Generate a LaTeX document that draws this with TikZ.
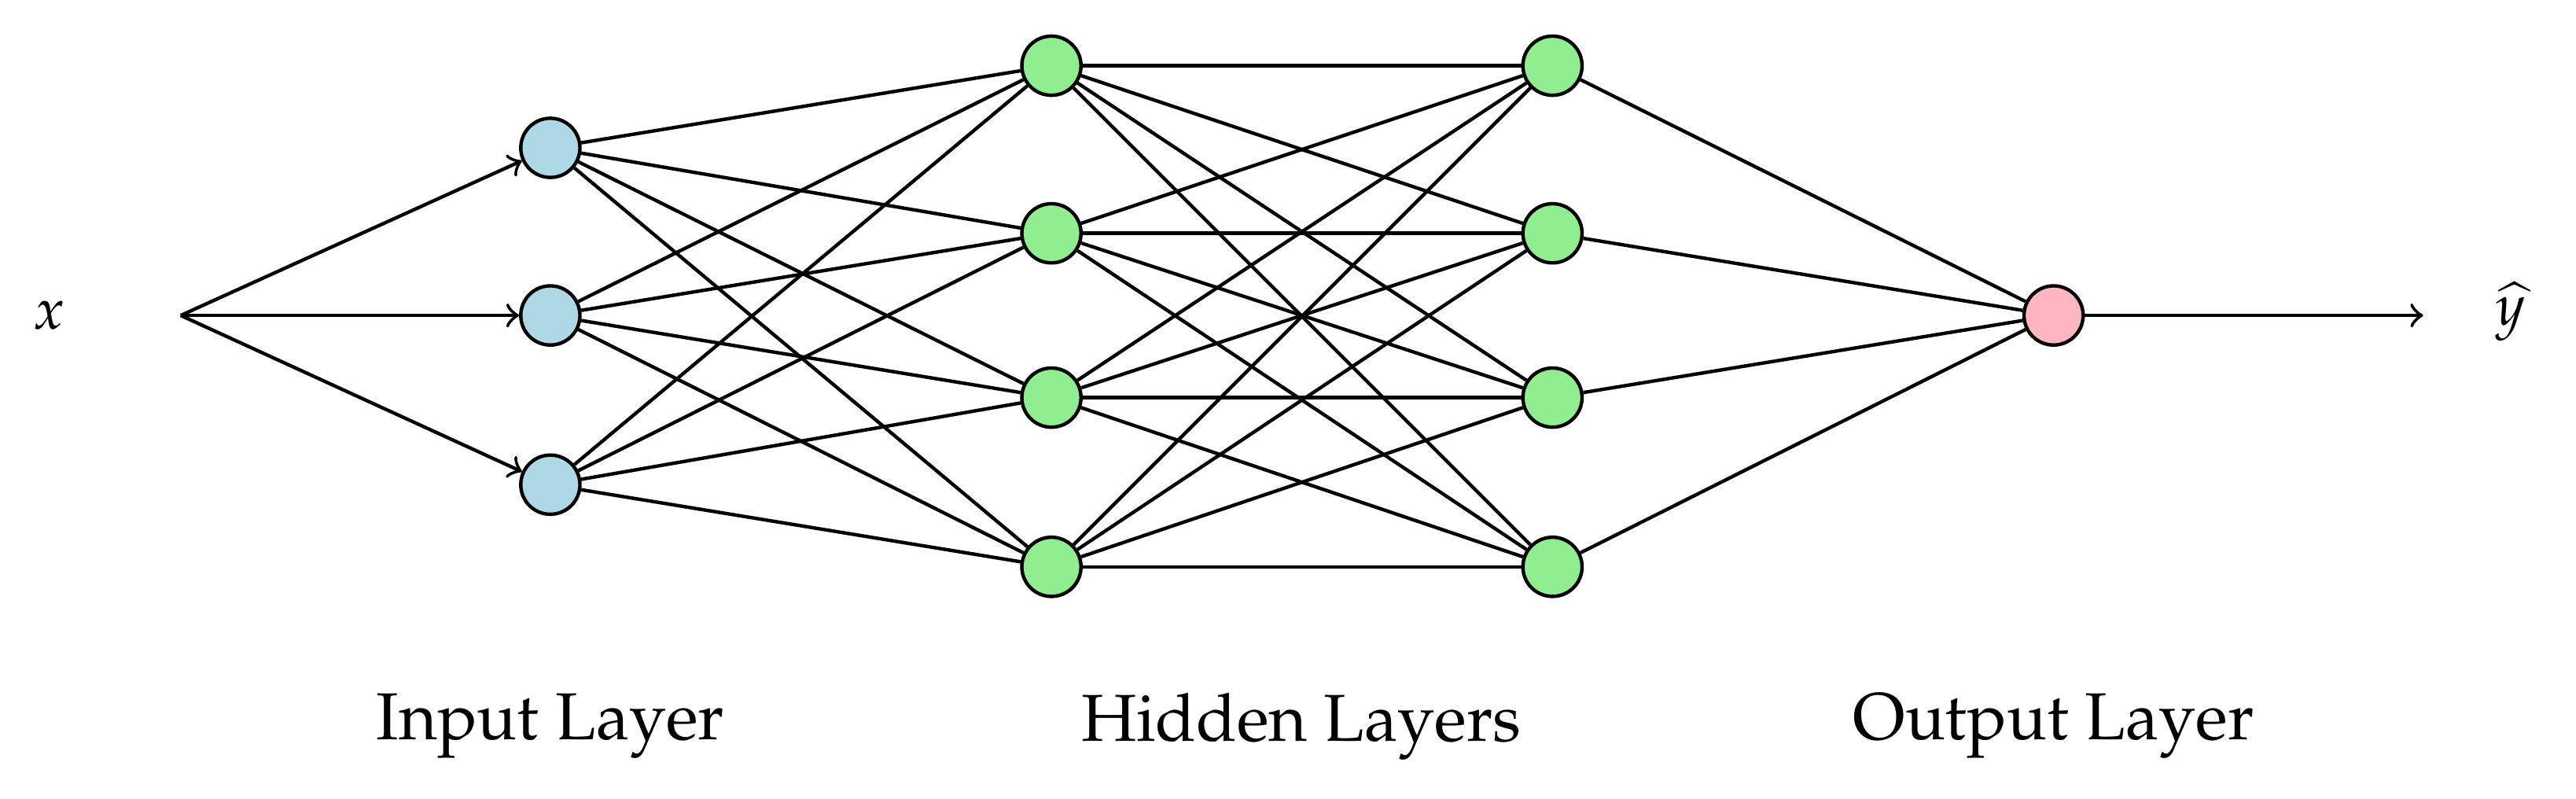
\documentclass[tikz,border=0pt]{standalone}
\usepackage[T1]{fontenc}
\usepackage{mathpazo}
\renewcommand{\rmdefault}{ppl}
\begin{document}
\begin{tikzpicture}[x=0.01cm,y=-0.01cm,
  neuron/.style={circle,draw,line width=0.6pt,minimum size=0.36cm,inner sep=0pt},
  inp/.style={neuron,fill={rgb,255:red,173;green,216;blue,230}},
  hid/.style={neuron,fill={rgb,255:red,144;green,238;blue,144}},
  outp/.style={neuron,fill={rgb,255:red,255;green,182;blue,193}},
  conn/.style={line width=0.6pt},
  lab/.style={font=\fontfamily{ppl}\fontsize{11.5pt}{13pt}\selectfont}]
\useasboundingbox (0,0) rectangle (1568,486);
\node (x) at (30,192) {$x$};
\coordinate (s) at (110,192);
\foreach \i/\y in {1/90,2/192,3/295} \node[inp] (i\i) at (335,\y) {};
\foreach \i/\y in {1/40,2/142,3/242,4/345} {
  \node[hid] (a\i) at (640,\y) {};
  \node[hid] (b\i) at (945,\y) {};}
\node[outp] (o) at (1250,192) {};
\coordinate (e) at (1475,192);
\node[inner sep=1pt] (y) at (1528,190) {$\widehat{y}$};
\foreach \i in {1,2,3} \draw[conn,->] (s) -- (i\i);
\foreach \i in {1,2,3} \foreach \j in {1,2,3,4} \draw[conn] (i\i) -- (a\j);
\foreach \i in {1,2,3,4} \foreach \j in {1,2,3,4} \draw[conn] (a\i) -- (b\j);
\foreach \i in {1,2,3,4} \draw[conn] (b\i) -- (o);
\draw[conn,->] (o) -- (e);
\node[lab] (l1) at (335,442) {Input Layer};
\node[lab] (l2) at (792,442) {Hidden Layers};
\node[lab] (l3) at (1250,442) {Output Layer};
\end{tikzpicture}
\end{document}
